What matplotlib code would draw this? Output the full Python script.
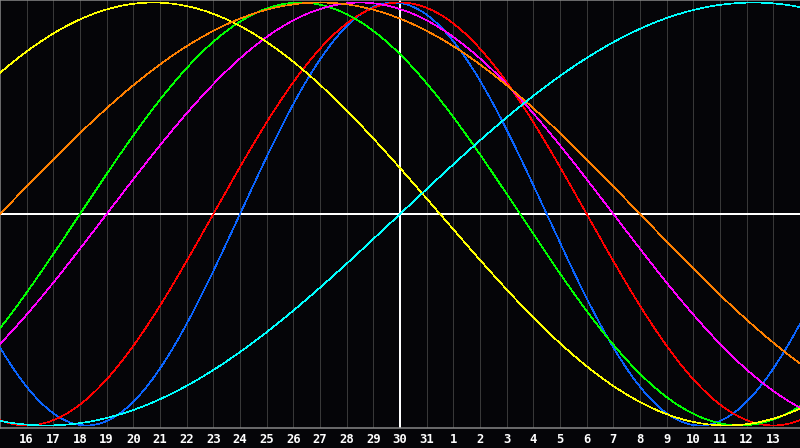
import numpy as np
import matplotlib
matplotlib.use("Agg")
import matplotlib.pyplot as plt

# ---- data ----
day_labels = [16, 17, 18, 19, 20, 21, 22, 23, 24, 25, 26, 27, 28, 29, 30, 31,
              1, 2, 3, 4, 5, 6, 7, 8, 9, 10, 11, 12, 13]
n_days = 30                      # span of the chart in days (first day = 15th, unlabeled)
today_index = 15                 # position of the marked day (30)
cycle_names = ["Physical", "Emotional", "Intellectual", "Intuitive",
               "Aesthetic", "Awareness", "Spiritual"]
cycle_lengths = [23, 28, 33, 38, 43, 48, 53]
cycle_day_at_start = [14, 20, 30, 34, 5, 0, 38]   # day within each cycle at the left edge
cycle_colors = ["#0a64ff", "#ff0000", "#00ff00", "#ff00ff", "#ffff00", "#ff8000", "#00ffff"]

# ---- figure ----
W, H = 800, 448
PX = 0.72  # one pixel in points at 100 dpi
fig = plt.figure(figsize=(W / 100, H / 100), dpi=100, facecolor="#050508")
ax = fig.add_axes([0, (H - 428) / H, 1, 428 / H], facecolor="#050508")

ax.set_xlim(0, n_days)
ax.set_ylim(-1.012, 1.012)

# vertical day grid lines
for k in range(1, len(day_labels) + 1):
    if k == today_index:
        continue
    ax.axvline(k, color="#383838", lw=PX, antialiased=False, zorder=1)

# centre cross
ax.axhline(0, color="white", lw=PX * 1.5, antialiased=False, zorder=2)
ax.axvline(today_index, color="white", lw=PX * 2, antialiased=False, zorder=2)

# cycles
t = np.linspace(0, n_days, 3000)
for name, P, d0, c in zip(cycle_names, cycle_lengths, cycle_day_at_start, cycle_colors):
    ax.plot(t, np.sin(2 * np.pi * (t + d0) / P), color=c, lw=0.45,
            antialiased=False, zorder=3, label=name)

# frame
for side in ["left", "top", "bottom"]:
    ax.spines[side].set_color("#8a8a8a")
    ax.spines[side].set_linewidth(PX * 1.5)
ax.spines["right"].set_visible(False)
ax.set_xticks([])
ax.set_yticks([])

# day labels
for k, lab in enumerate(day_labels, start=1):
    fig.text(k / n_days, 1 - 439 / H, str(lab), color="white",
             fontsize=8.8, fontweight="bold", family="DejaVu Sans Mono",
             ha="center", va="center")

fig.savefig("out.png", dpi=100, facecolor=fig.get_facecolor())
